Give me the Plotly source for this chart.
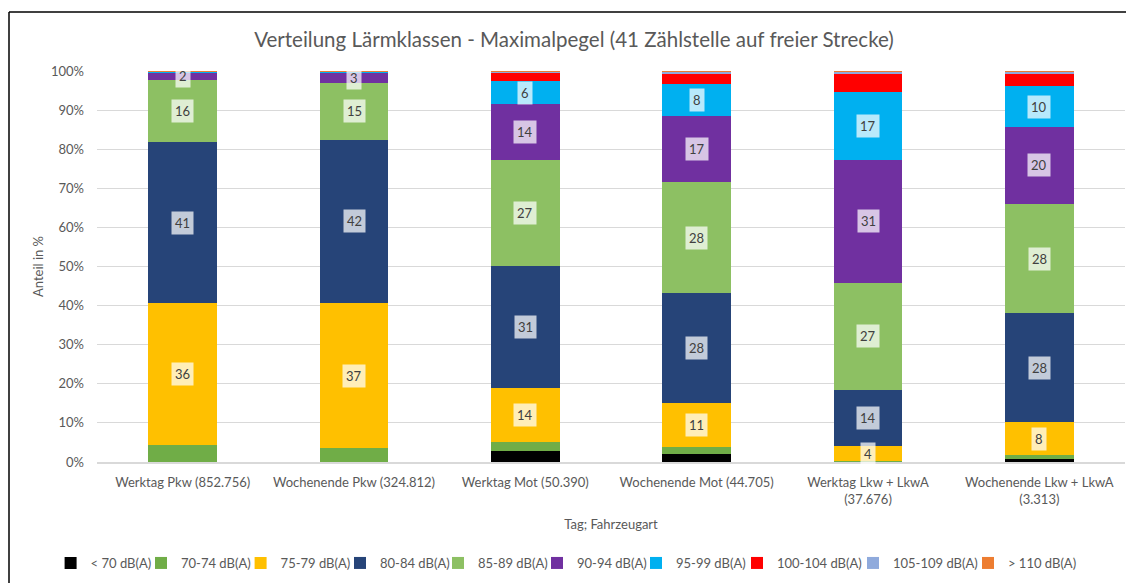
import plotly.graph_objects as go

categories = [
    "Werktag Pkw (852.756)",
    "Wochenende Pkw (324.812)",
    "Werktag Mot (50.390)",
    "Wochenende Mot (44.705)",
    "Werktag Lkw + LkwA<br>(37.676)",
    "Wochenende Lkw + LkwA<br>(3.313)",
]

series_names = ["< 70 dB(A)", "70-74 dB(A)", "75-79 dB(A)", "80-84 dB(A)", "85-89 dB(A)",
                "90-94 dB(A)", "95-99 dB(A)", "100-104 dB(A)", "105-109 dB(A)", "> 110 dB(A)"]

lt70 = [0.0, 0.0, 2.9, 2.0, 0.1, 0.8]
db70_74 = [4.3, 3.5, 2.1, 1.8, 0.2, 1.0]
db75_79 = [36.4, 37.2, 13.9, 11.3, 3.7, 8.4]
db80_84 = [41.1, 41.7, 31.2, 28.1, 14.4, 27.8]
db85_89 = [15.9, 14.6, 27.1, 28.4, 27.45, 28.0]
db90_94 = [2.0, 2.6, 14.4, 16.9, 31.45, 19.7]
db95_99 = [0.2, 0.3, 5.8, 8.2, 17.3, 10.4]
db100_104 = [0.05, 0.05, 2.1, 2.6, 4.8, 3.2]
db105_109 = [0.02, 0.02, 0.3, 0.5, 0.5, 0.5]
gt110 = [0.03, 0.03, 0.2, 0.2, 0.1, 0.2]

series_values = [lt70, db70_74, db75_79, db80_84, db85_89, db90_94, db95_99,
                 db100_104, db105_109, gt110]
colors = ["#000000", "#70AD47", "#FFC000", "#264478", "#8DC063",
          "#7030A0", "#00B0F0", "#FF0000", "#8FAADC", "#ED7D31"]
labelled = ["75-79 dB(A)", "80-84 dB(A)", "85-89 dB(A)", "90-94 dB(A)", "95-99 dB(A)"]

tick_vals = [0, 10, 20, 30, 40, 50, 60, 70, 80, 90, 100]
tick_text = [f"{v}%" for v in tick_vals]

FONT = "Lato"
GREY = "#595959"
W, H = 1126, 575
# left edge (px, figure coords) of each legend entry's text
legend_text_px = [80.6, 171, 270.6, 370, 468, 567, 666, 767, 883, 998]

fig = go.Figure()
for k, (name, vals, col) in enumerate(zip(series_names, series_values, colors)):
    fig.add_trace(go.Bar(
        name=name, x=categories, y=vals, marker=dict(color=col, line=dict(width=0)),
        legend="legend" if k == 0 else f"legend{k + 1}",
    ))

annotations = []
cum = [0.0] * len(categories)
for name, vals in zip(series_names, series_values):
    for i, v in enumerate(vals):
        if name in labelled and round(v) >= 1:
            annotations.append(dict(
                x=categories[i], y=cum[i] + v / 2, xref="x", yref="y",
                text=str(round(v)), showarrow=False,
                font=dict(family=FONT, size=13, color="#404040"),
                bgcolor="rgba(255,255,255,0.72)", borderpad=3,
            ))
        cum[i] += v

legends = {}
for k, tx in enumerate(legend_text_px):
    key = "legend" if k == 0 else f"legend{k + 1}"
    legends[key] = dict(
        orientation="h", xref="container", yref="container",
        x=(tx - 40 + 2) / W, xanchor="left", y=1 - 555 / H, yanchor="middle",
        font=dict(family=FONT, size=13, color=GREY), bgcolor="rgba(0,0,0,0)",
        borderwidth=0, itemwidth=30,
    )

fig.update_layout(
    width=W, height=H,
    barmode="stack", bargap=0.6,
    paper_bgcolor="white", plot_bgcolor="white",
    margin=dict(l=89, r=W - 1117, t=63, b=H - 454, autoexpand=False),
    font=dict(family=FONT, color=GREY, size=13),
    title=dict(text="Verteilung Lärmklassen - Maximalpegel (41 Zählstelle auf freier Strecke)",
               x=566 / W, xanchor="center", y=1 - 32 / H, yanchor="middle",
               font=dict(family=FONT, size=20.5, color=GREY)),
    xaxis=dict(showgrid=False, showline=True, linecolor="#d9d9d9", linewidth=1.5,
               ticks="", tickfont=dict(size=13, color=GREY), ticklabelstandoff=8,
               title=dict(text="Tag; Fahrzeugart", font=dict(size=13, color=GREY), standoff=14)),
    yaxis=dict(range=[0, 100], tickvals=tick_vals, ticktext=tick_text,
               showgrid=True, gridcolor="#d9d9d9", gridwidth=1, zeroline=False,
               tickfont=dict(size=13, color=GREY), ticks="", ticklabelstandoff=12,
               title=dict(text="Anteil in %", font=dict(size=13, color=GREY), standoff=4)),
    annotations=annotations,
    showlegend=True,
    **legends,
)

# outer chart frame (left and top edges visible in the reference)
fig.add_shape(type="line", xref="paper", yref="paper",
              x0=-0.0856, x1=-0.0856, y0=-0.45, y1=1.1509,
              line=dict(color="black", width=1.5), layer="below")
fig.add_shape(type="line", xref="paper", yref="paper",
              x0=-0.0856, x1=1.05, y0=1.1509, y1=1.1509,
              line=dict(color="black", width=1.5), layer="below")

fig.write_html("out.html")
